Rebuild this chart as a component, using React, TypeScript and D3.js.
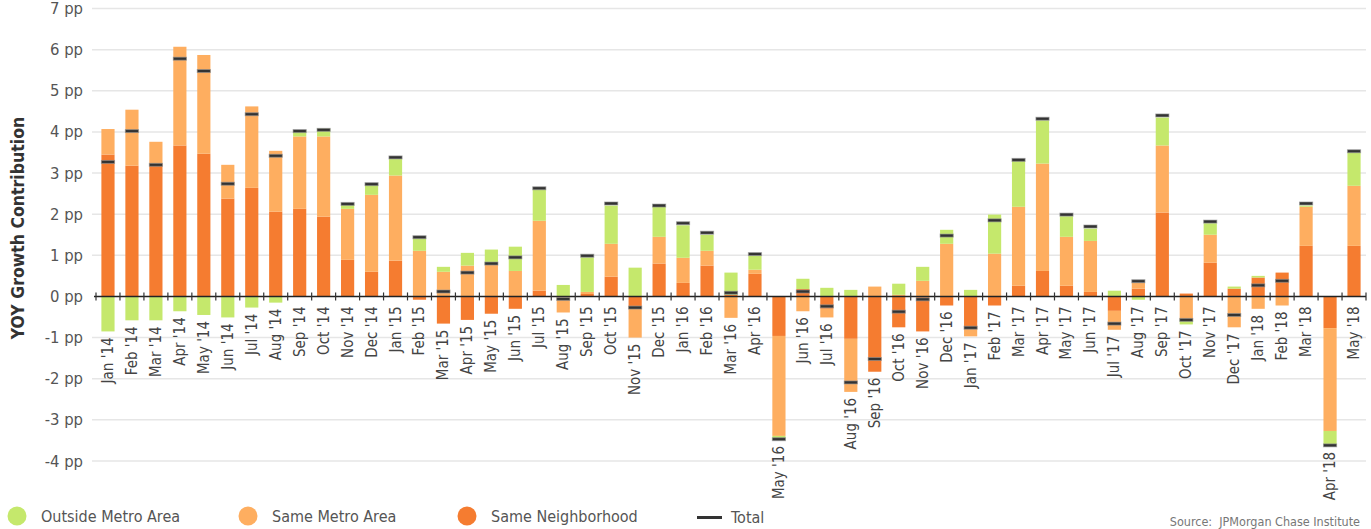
import React, { useEffect, useRef } from 'react';
import * as d3 from 'd3';

// months on the x axis
const months = [
  "Jan '14", "Feb '14", "Mar '14", "Apr '14", "May '14", "Jun '14", "Jul '14", "Aug '14", "Sep '14", "Oct '14", "Nov '14", "Dec '14",
  "Jan '15", "Feb '15", "Mar '15", "Apr '15", "May '15", "Jun '15", "Jul '15", "Aug '15", "Sep '15", "Oct '15", "Nov '15", "Dec '15",
  "Jan '16", "Feb '16", "Mar '16", "Apr '16", "May '16", "Jun '16", "Jul '16", "Aug '16", "Sep '16", "Oct '16", "Nov '16", "Dec '16",
  "Jan '17", "Feb '17", "Mar '17", "Apr '17", "May '17", "Jun '17", "Jul '17", "Aug '17", "Sep '17", "Oct '17", "Nov '17", "Dec '17",
  "Jan '18", "Feb '18", "Mar '18", "Apr '18", "May '18",
];

// contributions in percentage points
const neighborhood = [
  3.45, 3.18, 3.22, 3.67, 3.47, 2.38, 2.64, 2.06, 2.13, 1.94, 0.89, 0.60,
  0.87, -0.08, -0.66, -0.57, -0.42, -0.30, 0.14, -0.03, 0.06, 0.48, -0.24, 0.80,
  0.33, 0.75, 0.04, 0.55, -0.96, 0.18, -0.30, -1.03, -1.83, -0.75, -0.85, -0.22,
  -0.78, -0.22, 0.26, 0.62, 0.26, 0.11, -0.35, 0.19, 2.04, 0.07, 0.82, 0.19,
  0.46, 0.58, 1.23, -0.77, 1.23,
];
const metro = [
  0.62, 1.36, 0.54, 2.40, 2.40, 0.82, 1.98, 1.48, 1.76, 1.95, 1.24, 1.87,
  2.07, 1.11, 0.60, 0.75, 0.77, 0.62, 1.70, -0.36, 0.05, 0.80, -0.76, 0.65,
  0.61, 0.36, -0.52, 0.10, -2.43, -0.36, -0.21, -1.29, 0.24, 0.04, 0.38, 1.28,
  -0.19, 1.04, 1.92, 2.61, 1.19, 1.24, -0.46, 0.14, 1.63, -0.57, 0.68, -0.75,
  -0.30, -0.22, 0.95, -2.50, 1.46,
];
const outside = [
  -0.85, -0.58, -0.58, -0.36, -0.45, -0.51, -0.27, -0.15, 0.15, 0.19, 0.13, 0.25,
  0.40, 0.30, 0.12, 0.31, 0.37, 0.59, 0.76, 0.28, 0.84, 0.93, 0.70, 0.74,
  0.79, 0.39, 0.54, 0.34, -0.10, 0.25, 0.21, 0.16, 0.00, 0.27, 0.34, 0.34,
  0.16, 0.95, 1.12, 1.05, 0.50, 0.30, 0.14, -0.08, 0.68, -0.11, 0.28, 0.05,
  0.04, 0.00, 0.03, -0.36, 0.81,
];
const totals = [
  3.27, 4.02, 3.20, 5.78, 5.48, 2.74, 4.43, 3.42, 4.02, 4.05, 2.25, 2.73,
  3.38, 1.44, 0.12, 0.58, 0.80, 0.95, 2.63, -0.06, 0.99, 2.26, -0.27, 2.21,
  1.78, 1.55, 0.09, 1.03, -3.47, 0.12, -0.24, -2.09, -1.52, -0.37, -0.07, 1.48,
  -0.76, 1.85, 3.32, 4.32, 1.99, 1.70, -0.66, 0.37, 4.40, -0.57, 1.82, -0.45,
  0.27, 0.38, 2.26, -3.62, 3.53,
];

const yTicks = [-4, -3, -2, -1, 0, 1, 2, 3, 4, 5, 6, 7];

const keys = ['neighborhood', 'metro', 'outside'];
const colors: Record<string, string> = {
  outside: '#c5e86c',
  metro: '#feae60',
  neighborhood: '#f57c30',
};
const legendItems = [
  { key: 'outside', label: 'Outside Metro Area' },
  { key: 'metro', label: 'Same Metro Area' },
  { key: 'neighborhood', label: 'Same Neighborhood' },
];

const FONT = '"DejaVu Sans Condensed", "Liberation Sans Narrow", sans-serif';

export default function App() {
  const svgRef = useRef<SVGSVGElement>(null);

  useEffect(() => {
    const svg = d3.select(svgRef.current);
    svg.selectAll('*').remove();

    const rows = months.map((m, i) => ({
      month: m,
      neighborhood: neighborhood[i],
      metro: metro[i],
      outside: outside[i],
    }));

    const x = d3.scaleBand<string>()
      .domain(months)
      .range([96, 1366])
      .paddingInner(0.45)
      .paddingOuter(0.225);

    const y = d3.scaleLinear().domain([-4, 7]).range([461, 8.5]);

    // gridlines + y labels
    svg.append('g')
      .selectAll('line')
      .data(yTicks.filter(t => t !== 0))
      .join('line')
      .attr('x1', 92)
      .attr('x2', 1366)
      .attr('y1', d => y(d))
      .attr('y2', d => y(d))
      .attr('stroke', '#e6e6e6')
      .attr('stroke-width', 1.5);

    svg.append('g')
      .selectAll('text')
      .data(yTicks)
      .join('text')
      .attr('x', 83)
      .attr('y', d => y(d))
      .attr('text-anchor', 'end')
      .attr('dominant-baseline', 'central')
      .attr('font-size', 16.5)
      .attr('fill', '#555')
      .text(d => `${d} pp`);

    // stacked bars, positives up and negatives down
    const stacked = d3.stack<any>()
      .keys(keys)
      .offset(d3.stackOffsetDiverging)(rows);

    svg.append('g')
      .selectAll('g')
      .data(stacked)
      .join('g')
      .attr('fill', d => colors[d.key])
      .selectAll('rect')
      .data(d => d)
      .join('rect')
      .attr('x', d => x(d.data.month)!)
      .attr('width', x.bandwidth())
      .attr('y', d => y(Math.max(d[0], d[1])))
      .attr('height', d => Math.abs(y(d[0]) - y(d[1])));

    // zero line and ticks between bars
    const y0 = y(0);
    svg.append('line')
      .attr('x1', 94)
      .attr('x2', 1366)
      .attr('y1', y0)
      .attr('y2', y0)
      .attr('stroke', '#222')
      .attr('stroke-width', 1.5);

    const step = x.step();
    svg.append('g')
      .selectAll('line')
      .data(months.concat(['end']))
      .join('line')
      .attr('x1', (d, i) => x.range()[0] + i * step)
      .attr('x2', (d, i) => x.range()[0] + i * step)
      .attr('y1', y0 - 4)
      .attr('y2', y0 + 4)
      .attr('stroke', '#333')
      .attr('stroke-width', 1.2);

    // total markers
    svg.append('g')
      .selectAll('rect')
      .data(totals)
      .join('rect')
      .attr('x', (d, i) => x(months[i])!)
      .attr('width', x.bandwidth())
      .attr('y', d => y(d) - 1.5)
      .attr('height', 3)
      .attr('fill', '#333')
      .attr('stroke', 'rgba(150,150,150,0.6)')
      .attr('stroke-width', 1);

    // month labels sit under the lowest point of each bar
    svg.append('g')
      .selectAll('text')
      .data(rows)
      .join('text')
      .attr('transform', d => {
        const neg = Math.min(0, d.neighborhood) + Math.min(0, d.metro) + Math.min(0, d.outside);
        const top = Math.max(y(neg), y0 + 4) + 6;
        return `translate(${x(d.month)! + x.bandwidth() / 2},${top}) rotate(-90)`;
      })
      .attr('text-anchor', 'end')
      .attr('dominant-baseline', 'central')
      .attr('font-size', 15)
      .attr('fill', '#444')
      .text(d => d.month);

    // y axis title
    svg.append('text')
      .attr('transform', `translate(18,${228}) rotate(-90)`)
      .attr('text-anchor', 'middle')
      .attr('dominant-baseline', 'central')
      .attr('font-size', 17.5)
      .attr('font-weight', 'bold')
      .attr('fill', '#333')
      .text('YOY Growth Contribution');

    // legend
    const legendX = [17, 248, 467];
    const legend = svg.append('g');
    legendItems.forEach((item, i) => {
      legend.append('circle')
        .attr('cx', legendX[i])
        .attr('cy', 516)
        .attr('r', 9.5)
        .attr('fill', colors[item.key]);
      legend.append('text')
        .attr('x', legendX[i] + 24)
        .attr('y', 516)
        .attr('dominant-baseline', 'central')
        .attr('font-size', 16)
        .attr('fill', '#555')
        .text(item.label);
    });
    legend.append('line')
      .attr('x1', 697)
      .attr('x2', 722)
      .attr('y1', 517.5)
      .attr('y2', 517.5)
      .attr('stroke', '#333')
      .attr('stroke-width', 3);
    legend.append('text')
      .attr('x', 731)
      .attr('y', 517)
      .attr('dominant-baseline', 'central')
      .attr('font-size', 16)
      .attr('fill', '#555')
      .text('Total');

    svg.append('text')
      .attr('x', 1360)
      .attr('y', 521)
      .attr('text-anchor', 'end')
      .attr('dominant-baseline', 'central')
      .attr('font-size', 12.5)
      .attr('fill', '#777')
      .style('white-space', 'pre')
      .text('Source:  JPMorgan Chase Institute');
  }, []);

  return (
    <svg
      ref={svgRef}
      width={1371}
      height={529}
      style={{ position: 'absolute', left: 0, top: 0, fontFamily: FONT, background: '#fff' }}
    />
  );
}
